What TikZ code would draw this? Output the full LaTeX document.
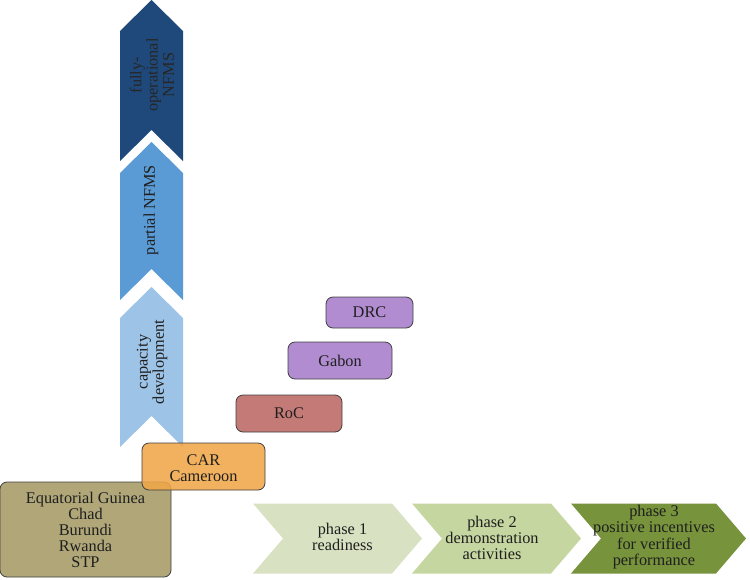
\documentclass[tikz,border=0pt]{standalone}
\usepackage{fontspec}
\setmainfont{Liberation Serif}
\begin{document}
\begin{tikzpicture}[x=1pt,y=-1pt,
  lbl/.style={font=\fontsize{16.3}{16.2}\selectfont, align=center, text=black!88},
  cbox/.style={draw=black!75, line width=0.8pt, rounded corners=7pt},
]
\definecolor{navy}{RGB}{31,73,122}
\definecolor{midblue}{RGB}{91,155,213}
\definecolor{ltblue}{RGB}{157,195,230}
\definecolor{gone}{RGB}{216,226,194}
\definecolor{gtwo}{RGB}{197,214,160}
\definecolor{gthree}{RGB}{119,147,60}
\definecolor{orng}{RGB}{240,166,72}
\definecolor{khaki}{RGB}{176,166,120}
\definecolor{rose}{RGB}{196,122,118}
\definecolor{lav}{RGB}{177,140,208}
\useasboundingbox (0,0) rectangle (750,579);
% vertical chevrons
\newcommand{\vchev}[3]{\fill[#3] (120,#1+31) -- (151.5,#1) -- (183,#1+31) -- (183,#2) -- (151.5,#2-31) -- (120,#2) -- cycle;}
\vchev{0}{161}{navy}
\vchev{142}{300}{midblue}
\vchev{287}{447}{ltblue}
\node[lbl, rotate=90, text=black!85] (full) at (152,75) {fully-\\operational\\NFMS};
\node[lbl, rotate=90] (part) at (151,210) {partial NFMS};
\node[lbl, rotate=90] (cap) at (152,362) {capacity\\development};
% horizontal chevrons
\newcommand{\hchev}[3]{\fill[#3] (#1,503.5) -- (#2,503.5) -- (#2+30,538.5) -- (#2,573.5) -- (#1,573.5) -- (#1+30,538.5) -- cycle;}
\hchev{253}{392}{gone}
\hchev{412}{551}{gtwo}
\hchev{571}{716}{gthree}
\node[lbl] (p1) at (342.5,537) {phase 1\\readiness};
\node[lbl] (p2) at (492,538) {phase 2\\demonstration\\activities};
\node[lbl] (p3) at (654,537) {phase 3\\positive incentives\\for verified\\performance};
% boxes
\draw[cbox, fill=khaki] (0,482) rectangle (171,577);
\draw[cbox, fill=orng, fill opacity=0.88] (142,443) rectangle (265,490);
\draw[cbox, fill=rose] (236,395) rectangle (342,432);
\draw[cbox, fill=lav] (288,342) rectangle (392,379);
\draw[cbox, fill=lav] (326,297) rectangle (413,328);
\node[lbl] (eq) at (85.5,530) {Equatorial Guinea\\Chad\\Burundi\\Rwanda\\STP};
\node[lbl] (car) at (203.5,468) {CAR\\Cameroon};
\node[lbl] (roc) at (289,413.5) {RoC};
\node[lbl] (gab) at (340,360.5) {Gabon};
\node[lbl] (drc) at (369.5,312.5) {DRC};
\end{tikzpicture}
\end{document}
